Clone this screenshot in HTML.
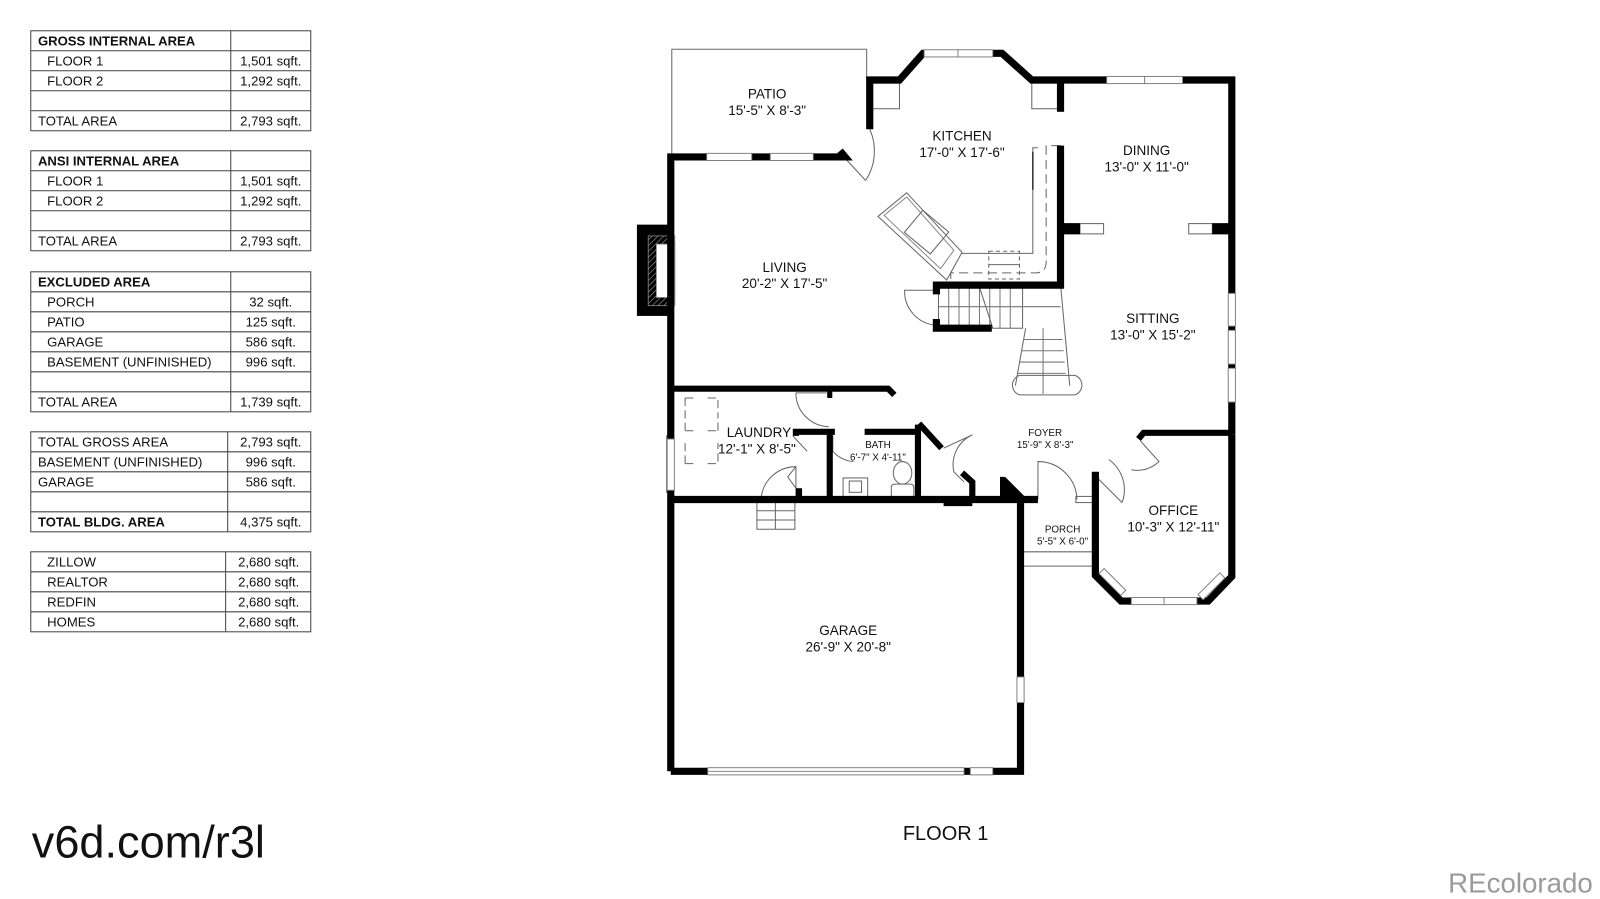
<!DOCTYPE html>
<html><head><meta charset="utf-8"><style>
html,body{margin:0;padding:0;background:#fff;width:1600px;height:899px;overflow:hidden}
svg{display:block}
text{font-family:"Liberation Sans",Arial,sans-serif;fill:#111}
</style></head><body>
<svg width="1600" height="899" viewBox="0 0 1560 876.5" xmlns="http://www.w3.org/2000/svg">
<defs>
<pattern id="h" width="4" height="4" patternUnits="userSpaceOnUse" patternTransform="rotate(45)"><line x1="0" y1="0" x2="0" y2="4" stroke="#999" stroke-width="1.2"/></pattern>
</defs>
<!-- TABLES -->
<g stroke="#444" stroke-width="1" fill="none">
<rect x="30" y="30" width="273" height="97.5"/>
<line x1="225" y1="30" x2="225" y2="127.5"/>
<line x1="30" y1="49.5" x2="303" y2="49.5"/><line x1="30" y1="69" x2="303" y2="69"/><line x1="30" y1="88.5" x2="303" y2="88.5"/><line x1="30" y1="108" x2="303" y2="108"/>
<rect x="30" y="147" width="273" height="97.5"/>
<line x1="225" y1="147" x2="225" y2="244.5"/>
<line x1="30" y1="166.5" x2="303" y2="166.5"/><line x1="30" y1="186" x2="303" y2="186"/><line x1="30" y1="205.5" x2="303" y2="205.5"/><line x1="30" y1="225" x2="303" y2="225"/>
<rect x="30" y="265" width="273" height="136.5"/>
<line x1="225" y1="265" x2="225" y2="401.5"/>
<line x1="30" y1="284.5" x2="303" y2="284.5"/><line x1="30" y1="304" x2="303" y2="304"/><line x1="30" y1="323.5" x2="303" y2="323.5"/><line x1="30" y1="343" x2="303" y2="343"/><line x1="30" y1="362.5" x2="303" y2="362.5"/><line x1="30" y1="382" x2="303" y2="382"/>
<rect x="30" y="421" width="273" height="97.5"/>
<line x1="222" y1="421" x2="222" y2="518.5"/>
<line x1="30" y1="440.5" x2="303" y2="440.5"/><line x1="30" y1="460" x2="303" y2="460"/><line x1="30" y1="479.5" x2="303" y2="479.5"/><line x1="30" y1="499" x2="303" y2="499"/>
<rect x="30" y="538" width="273" height="78"/>
<line x1="220" y1="538" x2="220" y2="616"/>
<line x1="30" y1="557.5" x2="303" y2="557.5"/><line x1="30" y1="577" x2="303" y2="577"/><line x1="30" y1="596.5" x2="303" y2="596.5"/>
</g>
<g font-size="12.8">
<text x="37" y="44.5" font-weight="bold">GROSS INTERNAL AREA</text>
<text x="46" y="64">FLOOR 1</text><text x="264" y="64" text-anchor="middle">1,501 sqft.</text>
<text x="46" y="83.5">FLOOR 2</text><text x="264" y="83.5" text-anchor="middle">1,292 sqft.</text>
<text x="37" y="122.5">TOTAL AREA</text><text x="264" y="122.5" text-anchor="middle">2,793 sqft.</text>
<text x="37" y="161.5" font-weight="bold">ANSI INTERNAL AREA</text>
<text x="46" y="181">FLOOR 1</text><text x="264" y="181" text-anchor="middle">1,501 sqft.</text>
<text x="46" y="200.5">FLOOR 2</text><text x="264" y="200.5" text-anchor="middle">1,292 sqft.</text>
<text x="37" y="239.5">TOTAL AREA</text><text x="264" y="239.5" text-anchor="middle">2,793 sqft.</text>
<text x="37" y="279.5" font-weight="bold">EXCLUDED AREA</text>
<text x="46" y="299">PORCH</text><text x="264" y="299" text-anchor="middle">32 sqft.</text>
<text x="46" y="318.5">PATIO</text><text x="264" y="318.5" text-anchor="middle">125 sqft.</text>
<text x="46" y="338">GARAGE</text><text x="264" y="338" text-anchor="middle">586 sqft.</text>
<text x="46" y="357.5">BASEMENT (UNFINISHED)</text><text x="264" y="357.5" text-anchor="middle">996 sqft.</text>
<text x="37" y="396.5">TOTAL AREA</text><text x="264" y="396.5" text-anchor="middle">1,739 sqft.</text>
<text x="37" y="435.5">TOTAL GROSS AREA</text><text x="264" y="435.5" text-anchor="middle">2,793 sqft.</text>
<text x="37" y="455">BASEMENT (UNFINISHED)</text><text x="264" y="455" text-anchor="middle">996 sqft.</text>
<text x="37" y="474.5">GARAGE</text><text x="264" y="474.5" text-anchor="middle">586 sqft.</text>
<text x="37" y="513.5" font-weight="bold">TOTAL BLDG. AREA</text><text x="264" y="513.5" text-anchor="middle">4,375 sqft.</text>
<text x="46" y="552.5">ZILLOW</text><text x="262" y="552.5" text-anchor="middle">2,680 sqft.</text>
<text x="46" y="572">REALTOR</text><text x="262" y="572" text-anchor="middle">2,680 sqft.</text>
<text x="46" y="591.5">REDFIN</text><text x="262" y="591.5" text-anchor="middle">2,680 sqft.</text>
<text x="46" y="611">HOMES</text><text x="262" y="611" text-anchor="middle">2,680 sqft.</text>
</g>
<text x="31" y="836" font-size="44">v6d.com/r3l</text>
<text x="922" y="819" font-size="19.5" text-anchor="middle">FLOOR 1</text>
<text x="1553" y="870" font-size="27" text-anchor="end" style="fill:#9a9a9a">REcolorado</text>

<!-- PLAN thin elements -->
<g fill="none" stroke="#666" stroke-width="1">
<polyline points="655,152 655,48 845,48 845,78"/>
<rect x="850" y="81" width="27" height="25"/>
<rect x="1006" y="81" width="27" height="25"/>
<rect x="1053" y="218" width="23" height="10"/>
<rect x="1159" y="218" width="23" height="10"/>
<line x1="820" y1="150" x2="844" y2="176"/>
<path d="M848,126 A52,52 0 0 1 844,176"/>
<polygon points="856,211 884,188 938,246 923,273"/>
<polygon points="862,210 884,192 930,244 917,262" stroke="#888"/>
<rect x="887" y="212" width="33" height="28" transform="rotate(40 903 226)"/>
<polyline points="938,247 1007,247 1007,144 1012,144"/>
<line x1="1007" y1="148" x2="1007" y2="185" stroke="#333" stroke-width="1.5"/>
<path d="M927,272 V266 H1010 Q1020,266 1020,255 V142 H1034" stroke-dasharray="9,5"/>
<rect x="964" y="245" width="30" height="27" stroke-dasharray="4,3"/>
<line x1="964" y1="258" x2="994" y2="258"/>
<rect x="915" y="278" width="82" height="42"/>
<g stroke="#777"><line x1="925" y1="278" x2="925" y2="320"/><line x1="935" y1="278" x2="935" y2="320"/><line x1="945" y1="278" x2="945" y2="320"/><line x1="955" y1="278" x2="955" y2="320"/><line x1="965" y1="278" x2="965" y2="320"/><line x1="975" y1="278" x2="975" y2="320"/><line x1="985" y1="278" x2="985" y2="320"/><line x1="915" y1="299" x2="1034" y2="299"/></g>
<line x1="955" y1="280" x2="968" y2="320"/>
<polyline points="1000,320 990,376"/>
<polyline points="1034,277 1043,376"/>
<g stroke="#777"><line x1="998" y1="331" x2="1036" y2="331"/><line x1="996" y1="342" x2="1037" y2="342"/><line x1="994" y1="353" x2="1038" y2="353"/><line x1="992" y1="364" x2="1039" y2="364"/><line x1="1017" y1="320" x2="1017" y2="384"/></g>
<path d="M994,366 H1048 A10,10 0 0 1 1048,385 H994 A10,10 0 0 1 994,366 Z"/>
<path d="M913,283 H882 A33,33 0 0 0 913,317"/>
<rect x="650" y="425" width="6" height="55" fill="#fff"/>
<path d="M668,388 h8 M690,388 h10 v20 M668,388 v20 M668,420 h8 M690,420 h10 M668,452 h8 M690,452 h10 v-20 M668,452 v-20 M668,420 v-10 M700,420 v-10" stroke-dasharray="8,4"/>
<path d="M776,383 A33,33 0 0 0 808,416"/>
<line x1="776" y1="383" x2="806" y2="383"/>
<path d="M742,487 A34,34 0 0 1 776,455 V486"/>
<path d="M776,455 L768,465 L776,476" />
<line x1="773" y1="425" x2="787" y2="440"/>
<rect x="738" y="489" width="37" height="27"/>
<line x1="738" y1="498" x2="775" y2="498"/><line x1="738" y1="507" x2="775" y2="507"/><line x1="756" y1="489" x2="756" y2="516"/>
<path d="M812,425 V440 A30,30 0 0 0 832,450"/>
<rect x="822" y="466" width="24" height="19"/><rect x="828" y="469" width="12" height="11"/>
<ellipse cx="880" cy="461" rx="9" ry="11"/><rect x="869" y="472" width="22" height="13" rx="3"/>
<path d="M920,437 L948,424 A32,32 0 0 0 930,460 L940,470"/>
<path d="M1012,487 V450 A38,38 0 0 1 1050,487"/>
<rect x="1049" y="484" width="17" height="6"/>
<line x1="1067" y1="463" x2="1094" y2="490"/>
<path d="M1094,490 A36,36 0 0 0 1081,448"/>
<path d="M1112,430 L1130,450 A30,30 0 0 1 1103,458"/>
<line x1="995" y1="538" x2="1066" y2="538"/><line x1="995" y1="552" x2="1066" y2="552"/>
</g>
<rect x="621" y="219" width="35" height="89" fill="#000"/>
<rect x="632" y="230" width="26" height="68" fill="url(#h)" stroke="#888" stroke-width="0.8"/>
<rect x="640" y="238" width="18" height="52" fill="#fff" stroke="#888" stroke-width="0.8"/>
<g fill="none" stroke="#000" stroke-width="7" stroke-linejoin="miter">
<polyline points="848,126 848,78 877,78 900,52 977,52 1006,78 1201,78 1201,424"/>
<polyline points="1201,424 1201,562 1178,586 1093,586 1068,561 1068,460"/>
<polyline points="1110,428 1115,422 1201,422" stroke-width="6"/>
<polyline points="1034,81 1034,109"/>
<polyline points="1034,142 1034,278 913,278 913,287"/>
<line x1="1034" y1="223" x2="1053" y2="223" stroke-width="11"/>
<line x1="1182" y1="223" x2="1201" y2="223" stroke-width="11"/>
<polyline points="913,311 913,320 967,320"/>
<polyline points="819,147 824,153 654,153 654,752"/>
<polyline points="654,379 866,379 872,385" stroke-width="6"/>
<line x1="809" y1="380" x2="809" y2="388" stroke-width="5"/>
<polyline points="654,487 995,487"/>
<line x1="920" y1="489" x2="948" y2="489" stroke-width="9"/>
<polyline points="776,425 776,421 814,421 809,421 809,487" stroke-width="6"/>
<line x1="779" y1="476" x2="779" y2="487" stroke-width="6"/>
<polyline points="843,421 895,421" stroke-width="6"/>
<polyline points="895,414 895,487" stroke-width="6"/>
<line x1="896" y1="413" x2="918" y2="437" stroke-width="6"/>
<polyline points="938,461 948,470 948,487" stroke-width="6"/>
<polyline points="995,487 995,752 654,752"/>
<polyline points="995,487 1012,487"/>
<line x1="1066" y1="487" x2="1069" y2="487"/>
</g>
<polygon points="975,465 980,465 999,484 999,490 975,490" fill="#000"/>
<g fill="#fff" stroke="#777" stroke-width="0.9">
<rect x="901" y="48.5" width="67" height="7"/><line x1="934" y1="48.5" x2="934" y2="55.5"/>
<rect x="1079" y="74.5" width="74" height="7"/><line x1="1116" y1="74.5" x2="1116" y2="81.5"/>
<rect x="689" y="149.5" width="44" height="7"/><rect x="751" y="149.5" width="42" height="7"/>
<rect x="1197.5" y="286" width="7" height="32"/><rect x="1197.5" y="322" width="7" height="33"/><rect x="1197.5" y="359" width="7" height="33"/>
<rect x="1103" y="582.5" width="64" height="7"/><line x1="1135" y1="582.5" x2="1135" y2="589.5"/>
<rect x="1068" y="565" width="30" height="7" transform="rotate(45 1080 572) translate(-3 -3)"/>
<rect x="1172" y="565" width="30" height="7" transform="rotate(-45 1190 572) translate(-3 -3)"/>
<rect x="991.5" y="660" width="7" height="25"/>
<rect x="690" y="748.5" width="250" height="7"/><line x1="690" y1="752" x2="940" y2="752"/>
<rect x="946" y="748.5" width="22" height="7"/>
<rect x="650.5" y="428" width="7" height="50"/>
</g>
<g font-size="13.2" text-anchor="middle">
<text x="748" y="96">PATIO</text><text x="748" y="112">15'-5" X 8'-3"</text>
<text x="938" y="137">KITCHEN</text><text x="938" y="153">17'-0" X 17'-6"</text>
<text x="1118" y="151">DINING</text><text x="1118" y="167">13'-0" X 11'-0"</text>
<text x="765" y="265">LIVING</text><text x="765" y="281">20'-2" X 17'-5"</text>
<text x="1124" y="315">SITTING</text><text x="1124" y="331">13'-0" X 15'-2"</text>
<text x="740" y="426">LAUNDRY</text><text x="738" y="442">12'-1" X 8'-5"</text>
<text x="1144" y="502">OFFICE</text><text x="1144" y="518">10'-3" X 12'-11"</text>
<text x="827" y="619">GARAGE</text><text x="827" y="635">26'-9" X 20'-8"</text>
</g>
<g font-size="9.6" text-anchor="middle">
<text x="856" y="437">BATH</text><text x="856" y="449">6'-7" X 4'-11"</text>
<text x="1019" y="425">FOYER</text><text x="1019" y="437">15'-9" X 8'-3"</text>
<text x="1036" y="519">PORCH</text><text x="1036" y="531">5'-5" X 6'-0"</text>
</g>
</svg>
</body></html>
